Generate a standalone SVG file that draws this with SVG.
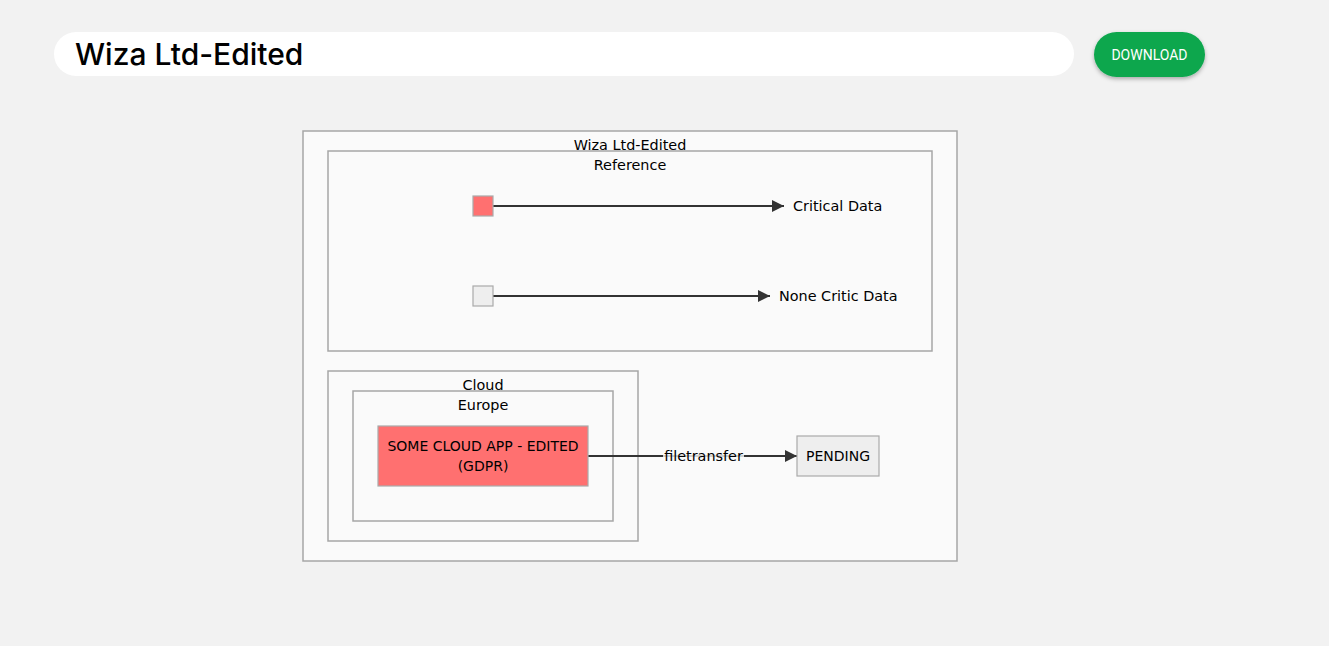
<svg xmlns="http://www.w3.org/2000/svg" width="1329" height="646" viewBox="0 0 1329 646">
<defs>
<style>
.cl{fill:#fafafa;stroke:#a6a6a6;stroke-width:1.5}
.lbl{font-family:"DejaVu Sans",Verdana,sans-serif;font-size:14.4px;fill:#000;text-anchor:middle}
.caps{font-size:14px}
.edge{stroke:#333;stroke-width:2;fill:none}
.red{fill:#ff7070;stroke:#aaaaaa;stroke-width:1.2}
.grey{fill:#eeeeee;stroke:#aaaaaa;stroke-width:1.2}
</style>
<marker id="arr" viewBox="0 0 10 10" refX="10" refY="5" markerWidth="6" markerHeight="6" markerUnits="strokeWidth" orient="auto">
<path d="M0,0 L10,5 L0,10 z" fill="#333"/>
</marker>
<filter id="sh" x="-20%" y="-30%" width="140%" height="180%">
<feDropShadow dx="0" dy="2" stdDeviation="2" flood-color="#000" flood-opacity="0.3"/>
</filter>
</defs>
<rect width="1329" height="646" fill="#f2f2f2"/>
<g id="header">
<rect x="54" y="32" width="1020" height="44" rx="22" fill="#ffffff"/>
<text x="75" y="65" font-family="Inter,Roboto,'Liberation Sans',sans-serif" font-size="30" font-weight="500" fill="#000">Wiza Ltd-Edited</text>
</g>
<g id="download-btn">
<rect x="1094" y="32" width="111" height="45" rx="22.5" fill="#0ca74e" filter="url(#sh)"/>
<text x="1149.5" y="60" font-family="Roboto,'Liberation Sans',sans-serif" font-size="14" fill="#ffffff" text-anchor="middle">DOWNLOAD</text>
</g>
<g id="cluster-main">
<rect class="cl" x="303" y="131" width="654" height="430"/>
<text class="lbl" x="630" y="150">Wiza Ltd-Edited</text>
</g>
<g id="cluster-reference">
<rect class="cl" x="328" y="151" width="604" height="200"/>
<text class="lbl" x="630" y="170">Reference</text>
</g>
<g id="cluster-cloud">
<rect class="cl" x="328" y="371" width="310" height="170"/>
<text class="lbl" x="483" y="390">Cloud</text>
</g>
<g id="cluster-europe">
<rect class="cl" x="353" y="391" width="260" height="130"/>
<text class="lbl" x="483" y="410">Europe</text>
</g>
<g id="connectors">
<line class="edge" x1="493" y1="206" x2="784" y2="206" marker-end="url(#arr)"/>
<line class="edge" x1="493" y1="296" x2="770" y2="296" marker-end="url(#arr)"/>
<line class="edge" x1="588" y1="456" x2="797" y2="456" marker-end="url(#arr)"/>
<rect x="663" y="447" width="81" height="18" fill="#fafafa" opacity="0.8"/>
<text class="lbl" x="703.5" y="461">filetransfer</text>
</g>
<g id="node-critical-key">
<rect class="red" x="473" y="196" width="20" height="20"/>
</g>
<g id="node-critical-label">
<text class="lbl" x="793" y="211" style="text-anchor:start">Critical Data</text>
</g>
<g id="node-noncritical-key">
<rect class="grey" x="473" y="286" width="20" height="20"/>
</g>
<g id="node-noncritical-label">
<text class="lbl" x="779" y="301" style="text-anchor:start">None Critic Data</text>
</g>
<g id="node-app">
<rect class="red" x="378" y="426" width="210" height="60"/>
<text class="lbl caps" x="483" y="451">SOME CLOUD APP - EDITED</text>
<text class="lbl caps" x="483" y="471">(GDPR)</text>
</g>
<g id="node-pending">
<rect class="grey" x="797" y="436" width="82" height="40"/>
<text class="lbl caps" x="838" y="461">PENDING</text>
</g>
</svg>
